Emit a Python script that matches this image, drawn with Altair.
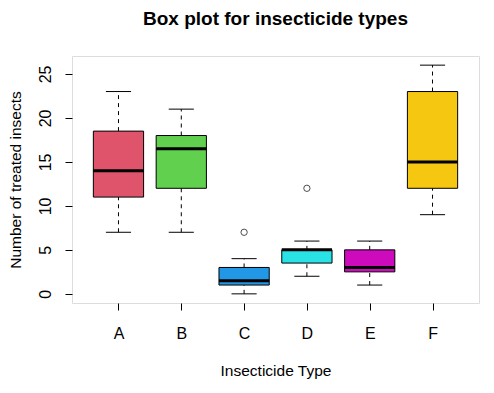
import math
import altair as alt
import pandas as pd

sprays = ["A", "B", "C", "D", "E", "F"]
count_A = [10, 7, 20, 14, 14, 12, 10, 23, 17, 20, 14, 13]
count_B = [11, 17, 21, 11, 16, 14, 17, 17, 19, 21, 7, 13]
count_C = [0, 1, 7, 2, 3, 1, 2, 1, 3, 0, 1, 4]
count_D = [3, 5, 12, 6, 4, 3, 5, 5, 5, 5, 2, 4]
count_E = [3, 5, 3, 5, 3, 6, 1, 1, 3, 2, 6, 4]
count_F = [11, 9, 15, 22, 15, 16, 13, 10, 26, 26, 24, 13]
colors = ["#DF536B", "#61D04F", "#2297E6", "#28E2E5", "#CD0BBC", "#F5C710"]
y_ticks = [0, 5, 10, 15, 20, 25]

counts = [count_A, count_B, count_C, count_D, count_E, count_F]


def fivenum(v):
    x = sorted(v)
    n = len(x)
    n4 = math.floor((n + 3) / 2) / 2
    d = [1, n4, (n + 1) / 2, n + 1 - n4, n]
    return [0.5 * (x[math.floor(di - 1)] + x[math.ceil(di - 1)]) for di in d]


rows, outs = [], []
for i, (s, v) in enumerate(zip(sprays, counts)):
    f = fivenum(v)
    iqr = f[3] - f[1]
    lo_f, hi_f = f[1] - 1.5 * iqr, f[3] + 1.5 * iqr
    inside = [a for a in v if lo_f <= a <= hi_f]
    rows.append(dict(spray=s, pos=i + 1, q1=f[1], med=f[2], q3=f[3],
                     wlo=min(inside), whi=max(inside)))
    for a in sorted(set(v)):
        if a < lo_f or a > hi_f:
            outs.append(dict(spray=s, pos=i + 1, val=a))

stats = pd.DataFrame(rows)
outliers = pd.DataFrame(outs)

FONT = "Liberation Sans"
W, H = 407, 247
xs = alt.Scale(domain=[0.26, 6.74], nice=False, zero=False)
ys = alt.Scale(domain=[-1.04, 27.04], nice=False, zero=False)

xaxis = alt.Axis(values=[1, 2, 3, 4, 5, 6],
                 labelExpr="['A','B','C','D','E','F'][datum.value-1]",
                 title="Insecticide Type", grid=False, domain=False,
                 tickSize=7, tickColor="black", tickWidth=1,
                 labelBaseline="alphabetic", labelPadding=28,
                 labelFont=FONT, labelFontSize=16, labelColor="black",
                 titleFont=FONT, titleFontSize=15.5, titleFontWeight="normal",
                 titleColor="black", titlePadding=22)
yaxis = alt.Axis(values=y_ticks, title="Number of treated insects", grid=False,
                 domain=False, tickSize=7, tickColor="black", tickWidth=1,
                 labelAngle=-90, labelAlign="center", labelBaseline="alphabetic",
                 labelPadding=15, labelFont=FONT, labelFontSize=16,
                 labelColor="black", titleFont=FONT, titleFontSize=15.5,
                 titleFontWeight="normal", titleColor="black", titlePadding=14)


def X(field):
    return alt.X(field, type="quantitative", scale=xs, axis=xaxis)


def Y(field):
    return alt.Y(field, type="quantitative", scale=ys, axis=yaxis)


base = alt.Chart(stats).transform_calculate(
    boxL="datum.pos - 0.4", boxR="datum.pos + 0.4",
    capL="datum.pos - 0.2", capR="datum.pos + 0.2")

wl = base.mark_rule(color="black", strokeWidth=1, strokeDash=[4, 4]).encode(
    x=X("pos"), y=Y("wlo"), y2="q1")
wh = base.mark_rule(color="black", strokeWidth=1, strokeDash=[4, 4]).encode(
    x=X("pos"), y=Y("q3"), y2="whi")
cl = base.mark_rule(color="black", strokeWidth=1).encode(
    x=X("capL"), x2="capR", y=Y("wlo"))
ch = base.mark_rule(color="black", strokeWidth=1).encode(
    x=X("capL"), x2="capR", y=Y("whi"))
box = base.mark_bar(stroke="black", strokeWidth=1, opacity=1).encode(
    x=X("boxL"), x2="boxR", y=Y("q1"), y2="q3",
    color=alt.Color("spray:N", scale=alt.Scale(domain=sprays, range=colors),
                    legend=None))
med = base.mark_rule(color="black", strokeWidth=3).encode(
    x=X("boxL"), x2="boxR", y=Y("med"))
pts = alt.Chart(outliers).mark_point(shape="circle", filled=False,
                                     color="black", size=40,
                                     strokeWidth=1).encode(
    x=X("pos"), y=Y("val"))

chart = alt.layer(wl, wh, cl, ch, box, med, pts).properties(
    width=W, height=H,
    title=alt.TitleParams("Box plot for insecticide types", font=FONT,
                          fontSize=19, fontWeight="bold", color="black",
                          anchor="middle", offset=27),
    autosize=alt.AutoSizeParams(type="none"),
    padding={"left": 64, "top": 48, "right": 7, "bottom": 82},
).configure_view(stroke="black", strokeWidth=1).configure(background="white")

chart.save("out.html", embed_options={"renderer": "svg", "actions": False})
